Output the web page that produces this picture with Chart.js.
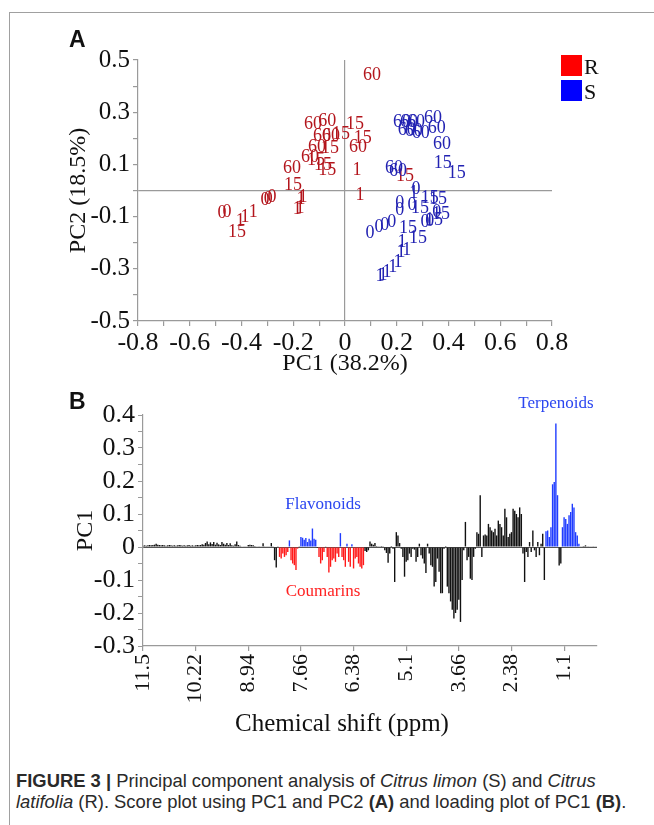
<!DOCTYPE html>
<html>
<head>
<meta charset="utf-8">
<script src="https://cdn.jsdelivr.net/npm/chart.js@4.4.1/dist/chart.umd.min.js"></script>
<style>
html,body{margin:0;padding:0;background:#fff;}
body{width:654px;height:825px;position:relative;overflow:hidden;font-family:'Liberation Serif',serif;color:#111;}
#frame{position:absolute;left:9px;top:12px;width:700px;height:900px;border-left:1.5px solid #a0a0a0;border-top:1.5px solid #a0a0a0;}
canvas{position:absolute;left:0;}
#cA{top:0;}
#cB{top:390px;}
.panel{position:absolute;font-family:'Liberation Sans',Arial,sans-serif;font-weight:bold;font-size:23px;line-height:1;color:#111;}
.ann{position:absolute;font-family:'Liberation Serif',serif;font-size:17px;line-height:1;white-space:nowrap;transform:translate(-50%,-50%);}
.sq{position:absolute;width:21px;height:21px;}
.lg{position:absolute;font-family:'Liberation Serif',serif;font-size:22px;line-height:1;}
#xtB{position:absolute;left:342px;top:722px;transform:translate(-50%,-50%);font-family:'Liberation Serif',serif;font-size:25px;white-space:nowrap;line-height:1;}
#cap{position:absolute;left:16px;top:770px;font-family:'Liberation Sans',Arial,sans-serif;font-size:18.4px;line-height:21px;color:#2a2a2a;white-space:nowrap;}
</style>
</head>
<body>
<div id="frame"></div>
<canvas id="cA" width="654" height="390"></canvas>
<canvas id="cB" width="654" height="370"></canvas>
<div class="panel" style="left:69px;top:28px;">A</div>
<div class="panel" style="left:69px;top:390px;">B</div>
<div class="sq" style="left:561px;top:55px;background:#ff0000;"></div>
<div class="lg" style="left:584px;top:56px;">R</div>
<div class="sq" style="left:561px;top:80px;background:#0000ff;"></div>
<div class="lg" style="left:584px;top:81px;">S</div>
<div class="ann" style="left:323px;top:503px;color:#2b46f0;">Flavonoids</div>
<div class="ann" style="left:323px;top:590px;color:#ff2222;">Coumarins</div>
<div class="ann" style="left:556px;top:402px;color:#2b46f0;">Terpenoids</div>
<div id="xtB">Chemical shift (ppm)</div>
<div id="cap"><b>FIGURE 3 |</b> Principal component analysis of <i>Citrus limon</i> (S) and <i>Citrus</i><br><i>latifolia</i> (R). Score plot using PC1 and PC2 <b>(A)</b> and loading plot of PC1 <b>(B)</b>.</div>
<script>
// ---------- Panel A: PCA scores ----------
const pc1R = [0.104,-0.124,-0.069,0.039,-0.089,-0.054,-0.015,0.069,0.050,-0.108,-0.058,-0.135,-0.112,-0.085,-0.205,-0.069,-0.201,-0.162,-0.170,-0.185,-0.174,-0.282,-0.309,-0.297,-0.355,-0.386,-0.405,-0.475,-0.456,-0.417,0.046,0.058,0.232];
const pc2R = [0.443,0.255,0.266,0.255,0.209,0.209,0.216,0.201,0.167,0.167,0.163,0.128,0.117,0.098,0.086,0.079,0.021,-0.025,-0.033,-0.071,-0.067,-0.025,-0.036,-0.033,-0.082,-0.102,-0.117,-0.086,-0.082,-0.159,0.079,-0.017,0.056];
const labR = ['60','60','60','15','60','60','15','15','60','60','15','60','15','15','60','15','15','1','1','1','1','0','0','0','1','1','1','0','0','15','1','1','15'];

const pc1S = [0.220,0.247,0.274,0.340,0.239,0.266,0.293,0.355,0.375,0.378,0.432,0.189,0.205,0.274,0.266,0.259,0.212,0.212,0.328,0.359,0.290,0.355,0.371,0.309,0.328,0.344,0.243,0.282,0.181,0.154,0.131,0.097,0.220,0.239,0.216,0.205,0.185,0.162,0.147,0.135];
const pc2S = [0.262,0.262,0.262,0.278,0.232,0.228,0.220,0.239,0.178,0.105,0.067,0.086,0.075,0.006,-0.010,-0.056,-0.048,-0.075,-0.029,-0.033,-0.067,-0.082,-0.090,-0.121,-0.117,-0.113,-0.144,-0.182,-0.121,-0.132,-0.140,-0.163,-0.197,-0.228,-0.236,-0.274,-0.293,-0.312,-0.324,-0.328];
const labS = ['60','60','60','60','60','60','60','60','60','15','15','60','60','0','1','0','0','0','15','15','15','0','15','0','0','15','15','15','0','0','0','0','1','1','1','1','1','1','1','1'];

// ---------- Panel B: PC1 loadings per chemical-shift bin ----------
const loadings = [
0.004,0.005,0.004,0.005,0.006,0.005,0.006,0.007,0.010,0.007,
0.006,0.005,0.006,0.005,0.004,0.005,0.006,0.005,0.004,0.005,
0.004,0.005,0.006,0.005,0.004,0.005,0.004,0.005,0.006,0.004,
0.005,0.004,0.005,0.006,0.005,0.006,0.008,0.007,0.012,0.017,
0.008,0.014,0.009,0.015,0.007,0.013,0.008,0.006,0.015,0.010,
0.007,0.012,0.006,0.011,0.005,0.004,0.008,0.017,0.006,0.004,
0.002,0.001,0.001,0.002,0.006,0.007,0.006,0.005,0.003,0.001,
0.001,0.002,0.001,0.011,0.002,0.001,0.001,0.001,0.012,0.002,
-0.040,-0.062,0.001,-0.030,-0.035,-0.020,-0.030,-0.025,-0.015,0.020,
-0.040,-0.050,-0.055,-0.070,-0.005,0.002,0.030,0.028,0.022,0.027,
0.015,0.025,0.020,0.056,0.025,0.022,-0.003,-0.030,-0.050,-0.040,
-0.015,0.001,-0.030,-0.077,-0.060,-0.040,-0.035,-0.045,-0.020,-0.030,
0.042,-0.030,-0.040,-0.060,0.010,-0.045,-0.060,0.008,-0.065,-0.035,
-0.030,-0.050,-0.060,-0.065,-0.055,-0.012,-0.015,-0.010,0.017,0.010,
0.007,0.012,0.003,0.002,0.001,0.003,0.001,-0.010,-0.018,-0.048,
-0.020,0.003,-0.005,-0.106,0.045,0.035,0.012,-0.005,-0.030,-0.090,
-0.045,-0.040,-0.020,-0.030,-0.005,-0.008,-0.045,-0.030,0.010,-0.025,
-0.035,-0.050,-0.079,0.010,-0.020,-0.055,-0.060,-0.120,-0.106,-0.035,
-0.075,-0.140,-0.140,-0.005,0.003,-0.120,-0.140,-0.165,-0.190,-0.217,
-0.200,-0.190,-0.160,-0.227,-0.100,-0.010,0.076,-0.040,-0.030,-0.096,
-0.100,-0.030,-0.005,0.045,0.040,0.157,-0.030,0.035,0.038,0.035,
0.070,0.060,0.050,0.045,0.055,0.035,0.080,0.070,0.060,0.035,
0.116,0.090,0.030,0.040,0.045,0.116,0.110,0.100,0.090,0.120,
0.100,-0.020,-0.106,-0.015,-0.030,0.015,-0.015,0.050,-0.010,-0.030,
0.015,-0.025,0.010,0.040,-0.100,0.048,0.050,0.030,0.060,0.190,
0.197,0.374,0.157,-0.056,-0.050,0.060,0.090,0.085,0.070,0.096,
0.106,0.131,0.120,0.045,0.035,0.010,0.001,0.001,0.003,0.005,
0.002,0.001,0.001,0.001,0.001,0.001,0.001
];
// bin index ranges assigned to compound classes
const coumarinBins = [[83,88],[90,94],[107,110],[112,119],[121,123],[125,126],[128,134]];
const flavonoidBins = [[89,89],[96,105],[120,120],[124,124],[127,127]];
const terpenoidBins = [[245,252],[255,265]];
// chemical shift tick labels (every 32 bins)
const shiftTicks = ['11.5','10.22','8.94','7.66','6.38','5.1','3.66','2.38','1.1'];
const binsPerTick = 32;

Chart.defaults.font.family = "'Liberation Serif', serif";
Chart.defaults.color = '#111';
Chart.defaults.animation = false;

const AXIS = '#9a9a9a';
const FONT_TICK = {family:"'Liberation Serif', serif", size:26};
const FONT_TICK_A_Y = {family:"'Liberation Serif', serif", size:25};
const FONT_TICK_ROT = {family:"'Liberation Serif', serif", size:22};
const FONT_TITLE = {family:"'Liberation Serif', serif", size:24};

const pointText = {
  id:'pointText',
  afterDatasetsDraw(chart){
    const ctx = chart.ctx;
    ctx.save();
    ctx.font = "18px 'Liberation Serif', serif";
    ctx.textAlign = 'center';
    ctx.textBaseline = 'middle';
    chart.data.datasets.forEach((ds,i)=>{
      const meta = chart.getDatasetMeta(i);
      ctx.fillStyle = ds.textColor;
      meta.data.forEach((el,j)=>ctx.fillText(ds.pointLabels[j], el.x, el.y));
    });
    ctx.restore();
  }
};

const zeroGrid = c => (c.tick && Math.abs(c.tick.value) < 1e-9) ? AXIS : 'rgba(0,0,0,0)';

new Chart(document.getElementById('cA'), {
  type:'scatter',
  data:{datasets:[
    {label:'R', data:pc1R.map((x,i)=>({x, y:pc2R[i]})), pointRadius:0, pointHoverRadius:0, textColor:'#b3151c', pointLabels:labR},
    {label:'S', data:pc1S.map((x,i)=>({x, y:pc2S[i]})), pointRadius:0, pointHoverRadius:0, textColor:'#2222b2', pointLabels:labS}
  ]},
  options:{
    responsive:false,
    layout:{padding:{left:0,right:102,top:60,bottom:0}},
    plugins:{legend:{display:false}, tooltip:{enabled:false}},
    scales:{
      x:{type:'linear', min:-0.8, max:0.8,
        afterFit(s){s.height=69;},
        ticks:{stepSize:0.1, autoSkip:false, maxRotation:0, font:FONT_TICK, color:'#111', padding:2,
          callback(v){const k=Math.round(v*10); if(k%2!==0) return ''; return k===0?'0':(k/10).toFixed(1);}},
        grid:{drawOnChartArea:true, color:zeroGrid, tickColor:AXIS, tickLength:5, lineWidth:1.2},
        border:{color:AXIS, width:1.2},
        title:{display:true, text:'PC1 (38.2%)', font:FONT_TITLE, color:'#111', padding:{top:0,bottom:12}}
      },
      y:{type:'linear', min:-0.5, max:0.5,
        afterFit(s){s.width=138;},
        ticks:{stepSize:0.1, autoSkip:false, font:FONT_TICK_A_Y, color:'#111', padding:3,
          callback(v){const k=Math.round(v*10); if(k%2===0) return ''; return (k/10).toFixed(1);}},
        grid:{drawOnChartArea:true, color:zeroGrid, tickColor:AXIS, tickLength:5, lineWidth:1.2},
        border:{color:AXIS, width:1.2},
        title:{display:true, text:'PC2 (18.5%)', font:FONT_TITLE, color:'#111', padding:{top:64,bottom:0}}
      }
    }
  },
  plugins:[pointText]
});

const inRanges = (i, ranges) => ranges.some(r => i >= r[0] && i <= r[1]);
const barColors = loadings.map((v,i) =>
  inRanges(i, coumarinBins) ? '#ff1a1a' :
  (inRanges(i, flavonoidBins) || inRanges(i, terpenoidBins)) ? '#1f3cff' : '#111111');

new Chart(document.getElementById('cB'), {
  type:'bar',
  data:{labels:loadings.map((v,i)=>i), datasets:[{data:loadings, backgroundColor:barColors, borderWidth:0, barPercentage:0.85, categoryPercentage:1}]},
  options:{
    responsive:false,
    layout:{padding:{left:0,right:57,top:25,bottom:0}},
    plugins:{legend:{display:false}, tooltip:{enabled:false}},
    scales:{
      x:{type:'category', offset:false,
        afterFit(s){s.height=114;},
        ticks:{autoSkip:false, maxRotation:90, minRotation:90, font:FONT_TICK_ROT, color:'#111', padding:3,
          callback(v,i){return i%binsPerTick===0 ? (shiftTicks[i/binsPerTick]||'') : '';}},
        grid:{offset:false, drawOnChartArea:false, tickLength:5, lineWidth:1.2,
          tickColor:c => (c.index%binsPerTick===0) ? AXIS : 'rgba(0,0,0,0)'},
        border:{color:AXIS, width:1.2}
      },
      y:{type:'linear', min:-0.3, max:0.4,
        afterFit(s){s.width=143;},
        ticks:{stepSize:0.05, autoSkip:false, font:FONT_TICK, color:'#111', padding:3,
          callback(v){const k=Math.round(v*100); if(k%10!==0) return ''; return k===0?'0':(k/100).toFixed(1);}},
        grid:{drawOnChartArea:true, color:c => (c.tick && Math.abs(c.tick.value)<1e-9) ? '#555' : 'rgba(0,0,0,0)', tickColor:AXIS, tickLength:5, lineWidth:1},
        border:{color:AXIS, width:1.2},
        title:{display:true, text:'PC1', font:FONT_TITLE, color:'#111', padding:{top:71,bottom:0}}
      }
    }
  }
});
</script>
</body>
</html>
